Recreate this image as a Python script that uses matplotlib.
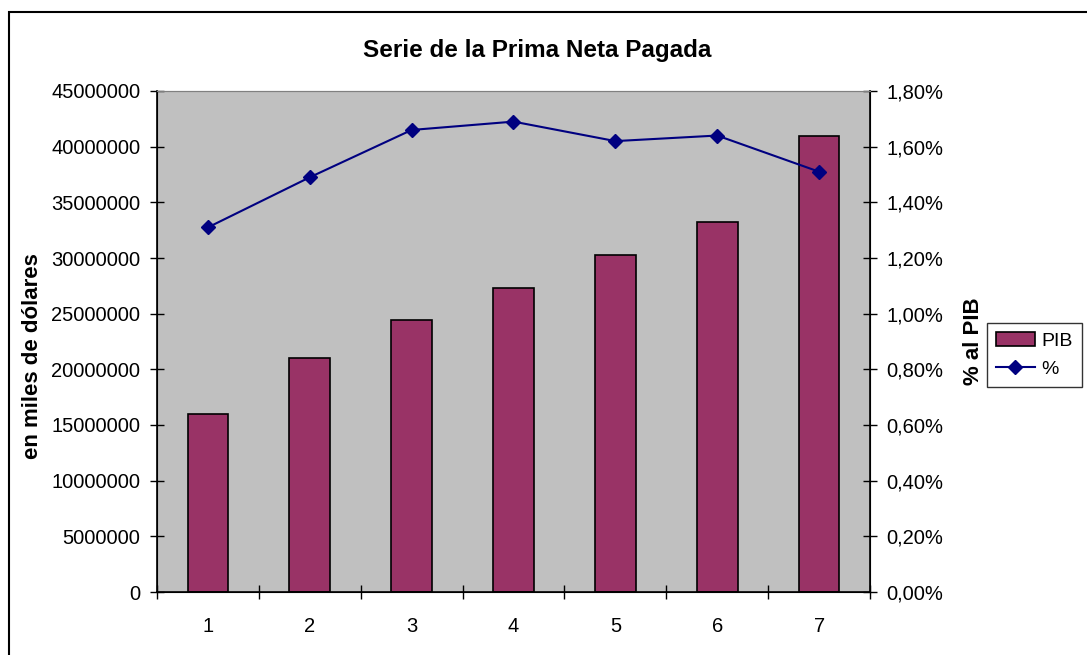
import matplotlib.pyplot as plt
from matplotlib.patches import Rectangle
from matplotlib.ticker import FuncFormatter, FixedLocator
import numpy as np

plt.rcParams['font.family'] = ['Liberation Sans', 'DejaVu Sans']

# data
categorias = [1, 2, 3, 4, 5, 6, 7]
pib = [15950000, 21000000, 24400000, 27300000, 30300000, 33200000, 41000000]
porcentaje = [1.31, 1.49, 1.66, 1.69, 1.62, 1.64, 1.51]  # % al PIB
y_ticks = [0, 5000000, 10000000, 15000000, 20000000, 25000000,
           30000000, 35000000, 40000000, 45000000]
pct_ticks = [0.0, 0.2, 0.4, 0.6, 0.8, 1.0, 1.2, 1.4, 1.6, 1.8]

fs = 14.5

fig = plt.figure(figsize=(10.87, 6.55), dpi=100)
ax = fig.add_axes([157 / 1087, 63 / 655, 713 / 1087, 501 / 655])
ax.set_facecolor('#C0C0C0')

x = np.array(categorias)
ax.bar(x, pib, width=0.4, color='#993366', edgecolor='black', linewidth=1.2,
       label='PIB', zorder=2)
ax.set_xlim(0.5, 7.5)
ax.set_ylim(0, 45000000)
ax.set_yticks(y_ticks)
ax.yaxis.set_major_formatter(FuncFormatter(lambda v, p: '%d' % v))

# category ticks between bars, labels in the middle
ax.xaxis.set_major_locator(FixedLocator(np.arange(0.5, 7.6, 1)))
ax.xaxis.set_minor_locator(FixedLocator(x))
ax.set_xticklabels([])
ax.set_xticklabels([str(c) for c in categorias], minor=True)
ax.tick_params(axis='x', which='major', direction='inout', length=10, width=1)
ax.tick_params(axis='x', which='minor', length=0, pad=18, labelsize=fs)
ax.tick_params(axis='y', direction='inout', length=10, width=1, pad=7,
               labelsize=fs)

ax.spines['top'].set_color('#808080')
ax.spines['left'].set_linewidth(1.2)
ax.spines['bottom'].set_linewidth(1.2)
ax.set_ylabel('en miles de dólares', fontsize=16, fontweight='bold')
ax.yaxis.set_label_coords(-0.160, 0.47)

ax2 = ax.twinx()
ax2.plot(x, np.array(porcentaje) / 100, color='#000080', marker='D',
         markersize=7, linewidth=1.5, label='%', zorder=3)
ax2.set_ylim(0, 0.018)
ax2.set_yticks(np.array(pct_ticks) / 100)
ax2.yaxis.set_major_formatter(
    FuncFormatter(lambda v, p: ('%.2f%%' % (v * 100)).replace('.', ',')))
ax2.tick_params(axis='y', direction='inout', length=10, width=1, pad=7,
                labelsize=fs)
ax2.spines['top'].set_color('#808080')
ax2.spines['right'].set_linewidth(1.2)
ax2.set_ylabel('% al PIB', fontsize=16, fontweight='bold', labelpad=14)

fig.text(537 / 1087, 1 - 50 / 655, 'Serie de la Prima Neta Pagada',
         ha='center', va='center', fontsize=17.5, fontweight='bold')

h1, l1 = ax.get_legend_handles_labels()
h2, l2 = ax2.get_legend_handles_labels()
leg = fig.legend(h1 + h2, l1 + l2, loc='center left',
                 bbox_to_anchor=(987 / 1087, 1 - 355 / 655),
                 fontsize=14, frameon=True, fancybox=False,
                 edgecolor='black', borderpad=0.45, handlelength=2.0,
                 handletextpad=0.35, borderaxespad=0, labelspacing=0.55)
leg.get_frame().set_linewidth(1)

# chart border, runs off the right and bottom edges
fig.patches.append(Rectangle((9 / 1087, -0.1), 1.2, 1.1 - 12 / 655,
                             transform=fig.transFigure, fill=False,
                             edgecolor='black', linewidth=1.5))

fig.savefig('out.png', dpi=100)
